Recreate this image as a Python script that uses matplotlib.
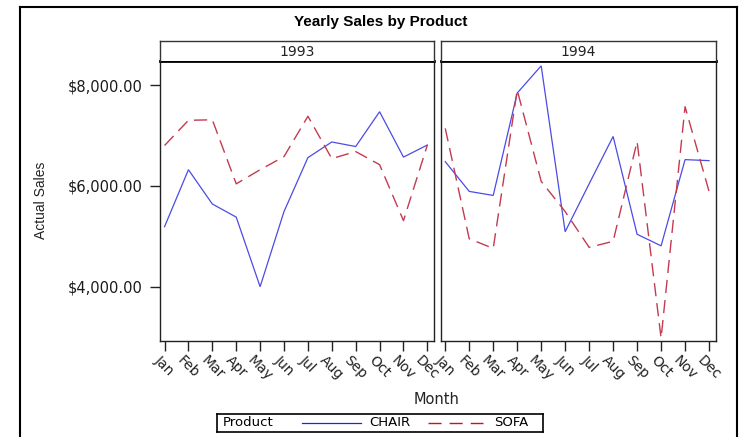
import matplotlib
matplotlib.use("Agg")
import matplotlib.pyplot as plt
from matplotlib.lines import Line2D
from matplotlib.ticker import FuncFormatter

months = ["Jan", "Feb", "Mar", "Apr", "May", "Jun", "Jul", "Aug", "Sep", "Oct", "Nov", "Dec"]
years = ["1993", "1994"]
chair_1993 = [5190, 6320, 5640, 5380, 4000, 5490, 6560, 6870, 6780, 7470, 6570, 6810]
sofa_1993 = [6800, 7300, 7310, 6040, 6320, 6580, 7380, 6540, 6680, 6420, 5310, 6810]
chair_1994 = [6480, 5890, 5810, 7840, 8380, 5090, 6040, 6980, 5040, 4810, 6520, 6500]
sofa_1994 = [7140, 4950, 4760, 7900, 6090, 5490, 4780, 4900, 6880, 2980, 7570, 5890]
yticks = [4000, 6000, 8000]

W, H = 744, 437
fig = plt.figure(figsize=(W / 100, H / 100), dpi=100)

def fx(px):
    return px / W

def fy(py):
    return 1 - py / H

BLUE = "#4B4BE6"
RED = "#C23B50"
tick_font = "DejaVu Sans"

top, bottom = 60.7, 340.5
panels = [(160, 434.3), (440.7, 716)]
series = [(chair_1993, sofa_1993), (chair_1994, sofa_1994)]

x = list(range(len(months)))
for i, ((l, r), (ch, so), yr) in enumerate(zip(panels, series, years)):
    ax = fig.add_axes([fx(l), fy(bottom), fx(r - l), (bottom - top) / H])
    ax.plot(x, ch, color=BLUE, lw=0.9, solid_joinstyle="miter")
    ax.plot(x, so, color=RED, lw=1.0, dashes=(9.5, 5))
    ax.set_xlim(-0.19, 11.29)
    ax.set_ylim(2933, 8482)
    ax.set_xticks(x)
    ax.set_xticklabels(months, rotation=-45, ha="center", fontsize=10, family=tick_font, color="#222222")
    ax.tick_params(axis="x", length=7, width=1.0, pad=2, color="#222222")
    for s in ax.spines.values():
        s.set_linewidth(1.0)
        s.set_color("#222222")
    ax.spines["top"].set_linewidth(2.0)
    ax.spines["top"].set_color("black")
    if i == 0:
        ax.set_yticks(yticks)
        ax.yaxis.set_major_formatter(FuncFormatter(lambda v, p: "${:,.2f}".format(v)))
        ax.tick_params(axis="y", length=7.2, width=1.0, pad=5, labelsize=10.5, color="#222222")
        for t in ax.get_yticklabels():
            t.set_family(tick_font)
            t.set_color("#1a1a1a")
    else:
        ax.set_yticks([])
    # header strip
    hx = fig.add_axes([fx(l), fy(top), fx(r - l), (top - 41) / H])
    hx.set_xticks([])
    hx.set_yticks([])
    for s in hx.spines.values():
        s.set_linewidth(1.0)
        s.set_color("#333333")
    hx.spines["bottom"].set_visible(False)
    hx.text(0.5, 0.45, yr, ha="center", va="center", fontsize=10, family=tick_font, color="#222222")

# title & labels
fig.text(fx(381), fy(22), "Yearly Sales by Product", ha="center", va="center",
         fontsize=11, fontweight="bold", family="Liberation Sans")
fig.text(fx(437), fy(399), "Month", ha="center", va="center", fontsize=10.5, family=tick_font, color="#222222")
fig.text(fx(41), fy(200), "Actual Sales", ha="center", va="center", rotation=90,
         fontsize=10, family="Liberation Sans", color="#222222")

# legend box
lx = fig.add_axes([fx(217), fy(432), fx(543 - 217), (432 - 414) / H])
lx.set_xlim(217, 543)
lx.set_ylim(0, 1)
lx.set_xticks([])
lx.set_yticks([])
for s in lx.spines.values():
    s.set_linewidth(1.2)
    s.set_color("black")
lx.text(223, 0.5, "Product", ha="left", va="center", fontsize=9.5, family=tick_font)
lx.plot([302, 361], [0.5, 0.5], color="#2020F0", lw=0.9)
lx.text(369, 0.5, "CHAIR", ha="left", va="center", fontsize=9.5, family=tick_font)
lx.plot([428, 483], [0.5, 0.5], color="#D01020", lw=1.0, dashes=(9.4, 5.8))
lx.text(494, 0.5, "SOFA", ha="left", va="center", fontsize=9.5, family=tick_font)

# outer frame
for (x0, y0, x1, y1) in [(20, 7, 737, 7), (20, 7, 20, 437), (737, 7, 737, 437)]:
    fig.add_artist(Line2D([fx(x0), fx(x1)], [fy(y0), fy(y1)], color="black", lw=1.5,
                          transform=fig.transFigure))

fig.savefig("out.png", dpi=100)
